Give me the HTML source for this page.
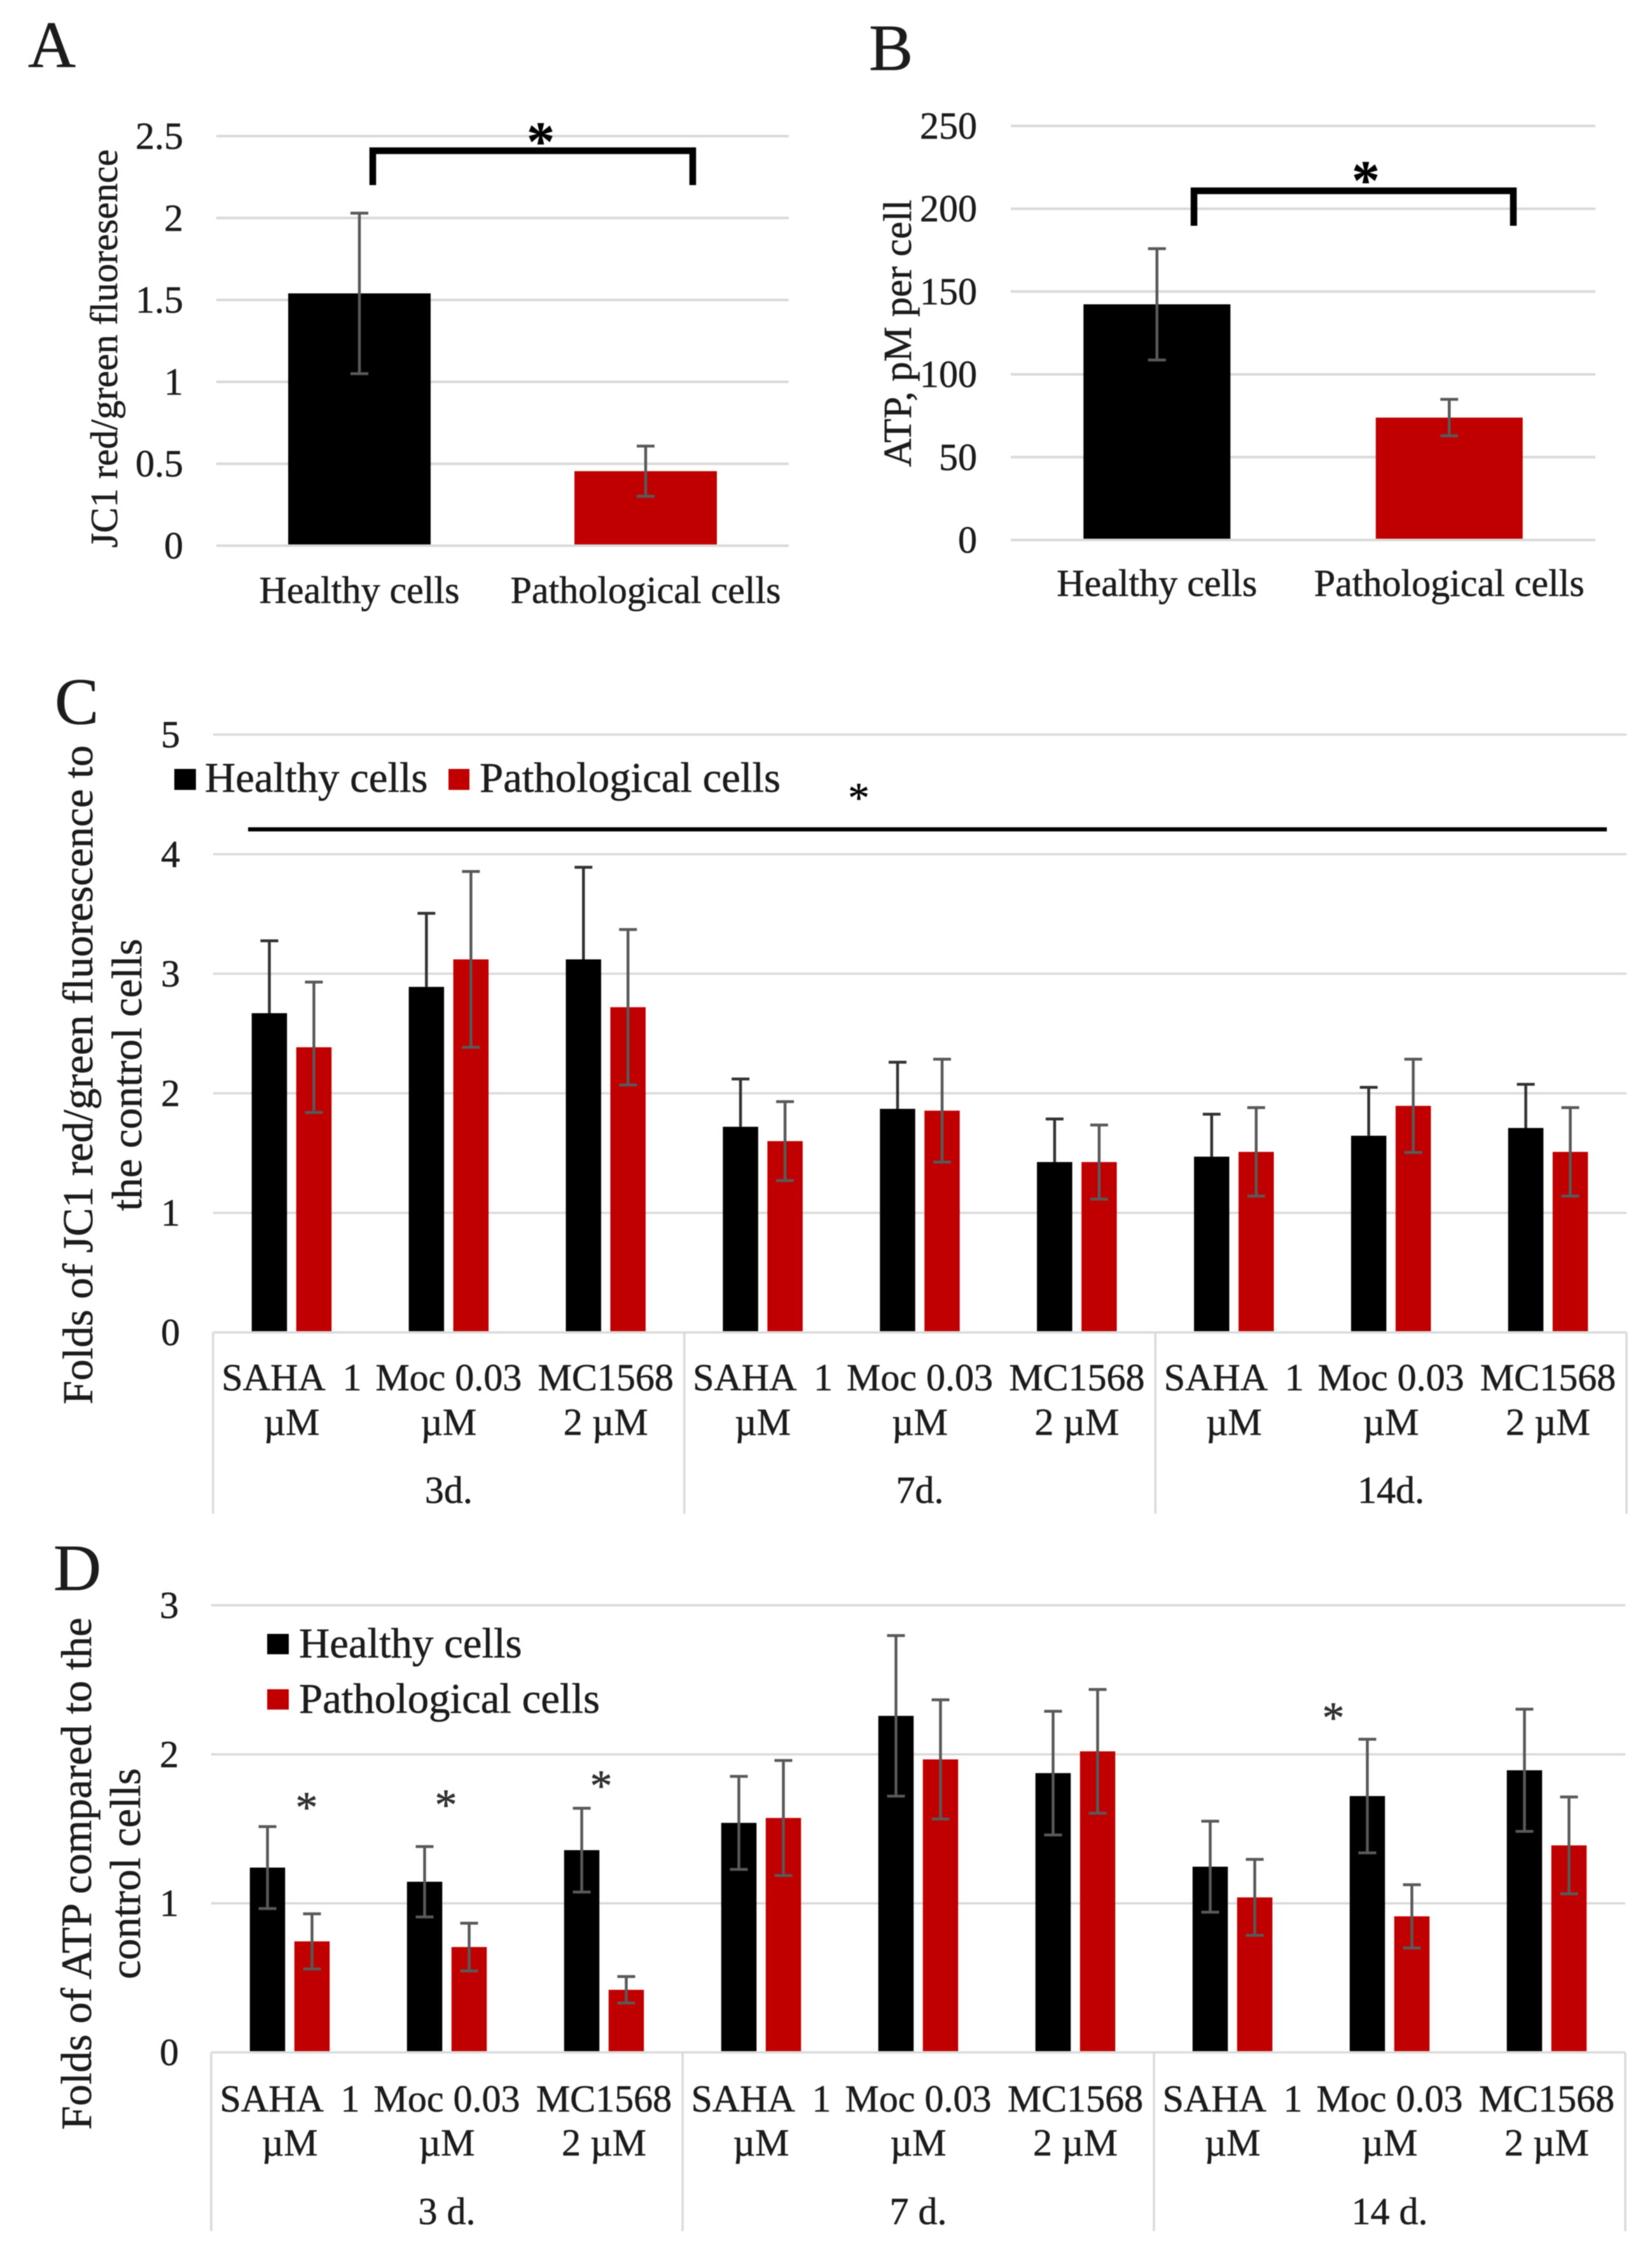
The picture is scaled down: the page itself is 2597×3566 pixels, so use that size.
<!DOCTYPE html>
<html lang="en">
<head>
<meta charset="utf-8">
<title>JC1 and ATP charts</title>
<style>
  html, body { margin: 0; padding: 0; background: #fff; }
  svg { display: block; font-family: "Liberation Serif", "Times New Roman", serif; fill: #1c1c1c; filter: blur(0.8px); }
  text { white-space: pre; stroke: #1c1c1c; stroke-width: 0.6px; }
</style>
</head>
<body>
<svg id="figure" xmlns="http://www.w3.org/2000/svg" width="2597" height="3566" viewBox="0 0 2597 3566">
  <rect x="0" y="0" width="2597" height="3566" fill="#ffffff"></rect>

  <text x="44" y="105" font-size="104">A</text>
  <text x="1366" y="110" font-size="104">B</text>
  <text x="86" y="1138" font-size="104">C</text>
  <text x="84" y="2500" font-size="104">D</text>

  <text transform="translate(184,548) rotate(-90)" text-anchor="middle" font-size="60">JC1 red/green fluoresence</text>
  <text transform="translate(1432,524) rotate(-90)" text-anchor="middle" font-size="62">ATP, pM per cell</text>
  <text transform="rotate(-90)" text-anchor="middle" font-size="67"><tspan x="-1690" y="145">Folds of JC1 red/green fluorescence to</tspan><tspan x="-1690" y="222">the control cells</tspan></text>
  <text transform="rotate(-90)" text-anchor="middle" font-size="67.5"><tspan x="-2946" y="143">Folds of ATP compared to the</tspan><tspan x="-2946" y="220">control cells</tspan></text>

  <g id="charts"></g>

  <path d="M586 291 V237 H1089 V291" fill="none" stroke="#000" stroke-width="10.5"></path>
  <text x="850" y="252" text-anchor="middle" font-size="88" font-weight="bold" fill="#000">*</text>
  <path d="M1877 355 V300 H2379 V355" fill="none" stroke="#000" stroke-width="10.5"></path>
  <text x="2147" y="313" text-anchor="middle" font-size="88" font-weight="bold" fill="#000">*</text>

  <line x1="390" y1="1304" x2="2526" y2="1304" stroke="#000" stroke-width="6.5"></line>
  <text x="1350" y="1277" text-anchor="middle" font-size="68" fill="#000">*</text>

  <rect x="274" y="1209" width="34" height="33" fill="#000"></rect>
  <text x="322" y="1245" font-size="66.8">Healthy cells</text>
  <rect x="705" y="1209" width="33" height="33" fill="#c00000"></rect>
  <text x="754" y="1245" font-size="66.8">Pathological cells</text>

  <rect x="420" y="2569" width="34" height="32" fill="#000"></rect>
  <text x="470" y="2606" font-size="66.8">Healthy cells</text>
  <rect x="420" y="2656" width="34" height="32" fill="#c00000"></rect>
  <text x="470" y="2693" font-size="66.8">Pathological cells</text>

  <text x="482" y="2865" text-anchor="middle" font-size="70" fill="#333">*</text>
  <text x="701" y="2861" text-anchor="middle" font-size="70" fill="#333">*</text>
  <text x="945" y="2831" text-anchor="middle" font-size="70" fill="#333">*</text>
  <text x="2096" y="2724" text-anchor="middle" font-size="70" fill="#333">*</text>
</svg>

<script>
// Panel A
const panelACategories = ["Healthy cells", "Pathological cells"];
const panelAValues = [1.54, 0.455];
const panelAErrors = [0.49, 0.153];
const panelATicks = [0, 0.5, 1, 1.5, 2, 2.5];

// Panel B
const panelBCategories = ["Healthy cells", "Pathological cells"];
const panelBValues = [142.3, 73.9];
const panelBErrors = [33.6, 11];
const panelBTicks = [0, 50, 100, 150, 200, 250];

// Shared treatments for panels C and D
const treatmentFirstLines = ["SAHA  1", "Moc 0.03", "MC1568", "SAHA  1", "Moc 0.03", "MC1568", "SAHA  1", "Moc 0.03", "MC1568"];
const treatmentSecondLines = ["µM", "µM", "2 µM", "µM", "µM", "2 µM", "µM", "µM", "2 µM"];

// Panel C
const panelCGroups = ["3d.", "7d.", "14d."];
const panelCTicks = [0, 1, 2, 3, 4, 5];
const panelCHealthy = [2.67, 2.89, 3.12, 1.72, 1.87, 1.425, 1.47, 1.645, 1.71];
const panelCHealthyErrors = [0.605, 0.615, 0.77, 0.40, 0.39, 0.36, 0.355, 0.405, 0.365];
const panelCPathological = [2.385, 3.12, 2.72, 1.60, 1.855, 1.425, 1.51, 1.895, 1.51];
const panelCPathologicalErrors = [0.545, 0.735, 0.65, 0.33, 0.43, 0.31, 0.37, 0.39, 0.37];

// Panel D
const panelDGroups = ["3 d.", "7 d.", "14 d."];
const panelDTicks = [0, 1, 2, 3];
const panelDHealthy = [1.24, 1.145, 1.357, 1.54, 2.258, 1.874, 1.246, 1.72, 1.893];
const panelDHealthyErrors = [0.275, 0.236, 0.281, 0.312, 0.539, 0.415, 0.305, 0.381, 0.41];
const panelDPathological = [0.745, 0.707, 0.42, 1.573, 1.966, 2.02, 1.04, 0.913, 1.389];
const panelDPathologicalErrors = [0.185, 0.16, 0.089, 0.386, 0.4, 0.415, 0.255, 0.212, 0.325];

const SVG_NS = "http://www.w3.org/2000/svg";
const chartsRoot = document.getElementById("charts");

function shape(tag, attrs, parent) {
  const el = document.createElementNS(SVG_NS, tag);
  for (const key in attrs) el.setAttribute(key, attrs[key]);
  parent.appendChild(el);
  return el;
}

function linearY(y0, yTop, maxValue) {
  return function (v) { return y0 + (yTop - y0) * (v / maxValue); };
}

function drawGrid(g, prefix, ticks, y, left, right, gridWidth, tickRight, fontSize) {
  ticks.forEach(function (t) {
    const line = shape("line", { x1: left, x2: right, y1: y(t), y2: y(t), stroke: "#d9d9d9", "stroke-width": gridWidth }, g);
    
    
    const label = shape("text", { x: tickRight, y: y(t) + 20, "text-anchor": "end", "font-size": fontSize }, g);
    
    
    label.textContent = String(t);
  });
}

function drawBar(g, name, cx, w, top, y0, fill) {
  const bar = shape("rect", { x: cx - w / 2, y: top, width: w, height: y0 - top, fill: fill }, g);
  
  
}

function drawError(g, name, cx, yHigh, yLow, color, capHalf, lowerCap) {
  let d = "M" + (cx - capHalf) + " " + yHigh + " H" + (cx + capHalf) + " M" + cx + " " + yHigh + " V" + yLow;
  if (lowerCap) d += " M" + (cx - capHalf) + " " + yLow + " H" + (cx + capHalf);
  const err = shape("path", { d: d, fill: "none", stroke: color, "stroke-width": 4.5 }, g);
  
  
}

function drawSimplePanel(prefix, categories, values, errors, ticks, maxValue, layout) {
  const g = shape("g", {}, chartsRoot);
  
  
  const y = linearY(layout.y0, layout.yTop, maxValue);
  const band = (layout.right - layout.left) / categories.length;
  const colors = ["#000000", "#c00000"];
  drawGrid(g, prefix, ticks, y, layout.left, layout.right, 4, layout.tickRight, 60);
  categories.forEach(function (c, i) {
    const cx = layout.left + band * (i + 0.5);
    drawBar(g, prefix + '-bar-' + (i + 1), cx, layout.barWidth, y(values[i]), layout.y0 - 2, colors[i]);
    drawError(g, prefix + '-error-bar-' + (i + 1), cx, y(values[i] + errors[i]), y(values[i] - errors[i]), "#595959", 14, true);
    const label = shape("text", { x: cx, y: layout.labelY, "text-anchor": "middle", "font-size": 60 }, g);
    
    
    label.textContent = c;
  });
}

function drawGroupedPanel(prefix, groups, ticks, maxValue, healthy, healthyErr, patho, pathoErr, layout) {
  const g = shape("g", {}, chartsRoot);
  
  
  const y = linearY(layout.y0, layout.yTop, maxValue);
  const band = (layout.right - layout.left) / healthy.length;
  drawGrid(g, prefix, ticks, y, layout.left, layout.right, 3.5, layout.tickRight, 60);

  for (let k = 0; k <= groups.length; k++) {
    const x = layout.left + band * 3 * k;
    const div = shape("line", { x1: x, x2: x, y1: layout.y0, y2: layout.bottom, stroke: "#d9d9d9", "stroke-width": 3.5 }, g);
    
    
  }
  groups.forEach(function (name, k) {
    const label = shape("text", { x: layout.left + band * (3 * k + 1.5), y: layout.groupY, "text-anchor": "middle", "font-size": 60 }, g);
    
    
    label.textContent = name;
  });

  healthy.forEach(function (v, i) {
    const cx = layout.left + band * (i + 0.5);
    const bx = cx - 35;
    const rx = cx + 35;
    drawBar(g, prefix + '-bar-healthy-' + (i + 1), bx, 55.5, y(v), layout.y0 - 2, "#000000");
    drawBar(g, prefix + '-bar-pathological-' + (i + 1), rx, 55.5, y(patho[i]), layout.y0 - 2, "#c00000");
    const lowHealthy = layout.healthyUpperOnly ? y(v) : y(v - healthyErr[i]);
    drawError(g, prefix + '-error-healthy-' + (i + 1), bx, y(v + healthyErr[i]), lowHealthy, layout.healthyUpperOnly ? "#333333" : "#595959", 14, !layout.healthyUpperOnly);
    drawError(g, prefix + '-error-pathological-' + (i + 1), rx, y(patho[i] + pathoErr[i]), y(patho[i] - pathoErr[i]), "#595959", 14, true);

    const first = shape("text", { x: cx, y: layout.line1Y, "text-anchor": "middle", "font-size": 60 }, g);
    
    
    first.textContent = treatmentFirstLines[i];
    const second = shape("text", { x: cx, y: layout.line2Y, "text-anchor": "middle", "font-size": 60 }, g);
    
    
    second.textContent = treatmentSecondLines[i];
  });
}

drawSimplePanel("panel-a", panelACategories, panelAValues, panelAErrors, panelATicks, 2.5,
  { left: 340, right: 1240, y0: 858, yTop: 214, barWidth: 224, tickRight: 288, labelY: 948 });
drawSimplePanel("panel-b", panelBCategories, panelBValues, panelBErrors, panelBTicks, 250,
  { left: 1589, right: 2508, y0: 849, yTop: 198, barWidth: 231, tickRight: 1536, labelY: 937 });
drawGroupedPanel("panel-c", panelCGroups, panelCTicks, 5, panelCHealthy, panelCHealthyErrors, panelCPathological, panelCPathologicalErrors,
  { left: 335, right: 2557, y0: 2095, yTop: 1155, bottom: 2380, tickRight: 283, line1Y: 2186, line2Y: 2256, groupY: 2363, healthyUpperOnly: true });
drawGroupedPanel("panel-d", panelDGroups, panelDTicks, 3, panelDHealthy, panelDHealthyErrors, panelDPathological, panelDPathologicalErrors,
  { left: 332, right: 2555, y0: 3227, yTop: 2524, bottom: 3508, tickRight: 281, line1Y: 3320, line2Y: 3389, groupY: 3497, healthyUpperOnly: false });
</script>
</body>
</html>
